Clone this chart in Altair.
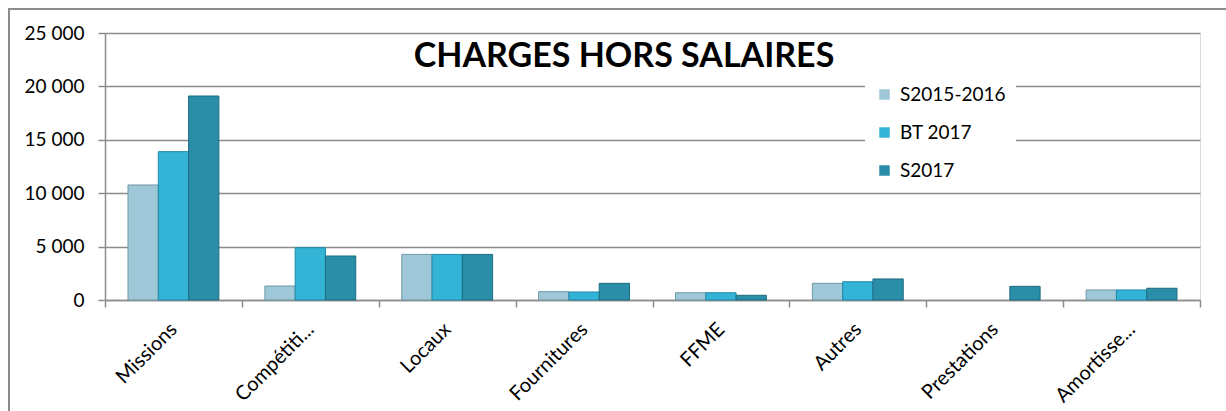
import altair as alt
import pandas as pd

categories = ["Missions", "Compétiti...", "Locaux", "Fournitures", "FFME", "Autres", "Prestations", "Amortisse..."]
series = ["S2015-2016", "BT 2017", "S2017"]
s2015 = [10770, 1310, 4270, 780, 680, 1560, 0, 940]
bt2017 = [13890, 4900, 4270, 750, 680, 1710, 0, 940]
s2017 = [19100, 4120, 4270, 1560, 440, 1970, 1280, 1100]
title_text = "CHARGES HORS SALAIRES"

fills = ["#9ec8d7", "#33b3d6", "#2a8ea9"]
strokes = ["#7097a6", "#1f8aa6", "#1d6b80"]

rows = []
for name, vals in zip(series, [s2015, bt2017, s2017]):
    for c, v in zip(categories, vals):
        rows.append({"cat": c, "serie": name, "val": v})
df = pd.DataFrame(rows)

FONT = "Lato"
W, H = 1095, 267

one = pd.DataFrame({"t": [title_text]})

frame = alt.Chart(one).mark_rect(
    fill="transparent", stroke="#8c8c8c", strokeWidth=2
).encode(
    x=alt.value(-96), x2=alt.value(1140), y=alt.value(-24), y2=alt.value(420)
)

title = alt.Chart(one).mark_text(
    font=FONT, fontSize=34, fontWeight="bold", color="#000",
    align="center", baseline="alphabetic"
).encode(text="t:N", x=alt.value(519), y=alt.value(34))

bars = alt.Chart(df).transform_filter("datum.val > 0").mark_bar(strokeWidth=1).encode(
    x=alt.X("cat:N", sort=categories, title=None,
            scale=alt.Scale(domain=categories, paddingInner=0, paddingOuter=0),
            axis=alt.Axis(labelAngle=-45, labelAlign="right", labelBaseline="middle",
                          labelFontSize=20, labelFont=FONT, labelColor="#000",
                          labelPadding=19, tickBand="extent", tickSize=7,
                          tickColor="#8c8c8c", tickWidth=1.5,
                          domainColor="#8c8c8c", domainWidth=1.5, grid=False)),
    xOffset=alt.XOffset("serie:N", sort=series,
                        scale=alt.Scale(domain=series, paddingInner=0, paddingOuter=0.76)),
    y=alt.Y("val:Q", title=None,
            scale=alt.Scale(domain=[0, 25000]),
            axis=alt.Axis(values=[0, 5000, 10000, 15000, 20000, 25000],
                          labelExpr="replace(format(datum.value, ','), ',', ' ')",
                          labelFontSize=19, labelFont=FONT, labelColor="#000",
                          labelPadding=14, tickSize=7, tickColor="#8c8c8c", tickWidth=1.5,
                          domainColor="#8c8c8c", domainWidth=1.5,
                          gridColor="#8c8c8c", gridWidth=1.5)),
    color=alt.Color("serie:N", sort=series,
                    scale=alt.Scale(domain=series, range=fills),
                    legend=alt.Legend(title=None, orient="none", legendX=760, legendY=42,
                                      fillColor="white", padding=10,
                                      symbolType="square", symbolSize=110,
                                      symbolStrokeWidth=0,
                                      labelFontSize=19, labelFont=FONT, labelColor="#000",
                                      rowPadding=18, labelOffset=6)),
    stroke=alt.Stroke("serie:N", sort=series,
                      scale=alt.Scale(domain=series, range=strokes), legend=None),
)

chart = alt.layer(frame, bars, title).properties(
    width=W, height=H,
    autosize=alt.AutoSizeParams(type="none"),
    padding={"left": 105, "top": 33, "right": 26, "bottom": 111},
).configure_view(stroke=None).configure(background="white")

chart.save("out.html", embed_options={"renderer": "svg", "actions": False})
